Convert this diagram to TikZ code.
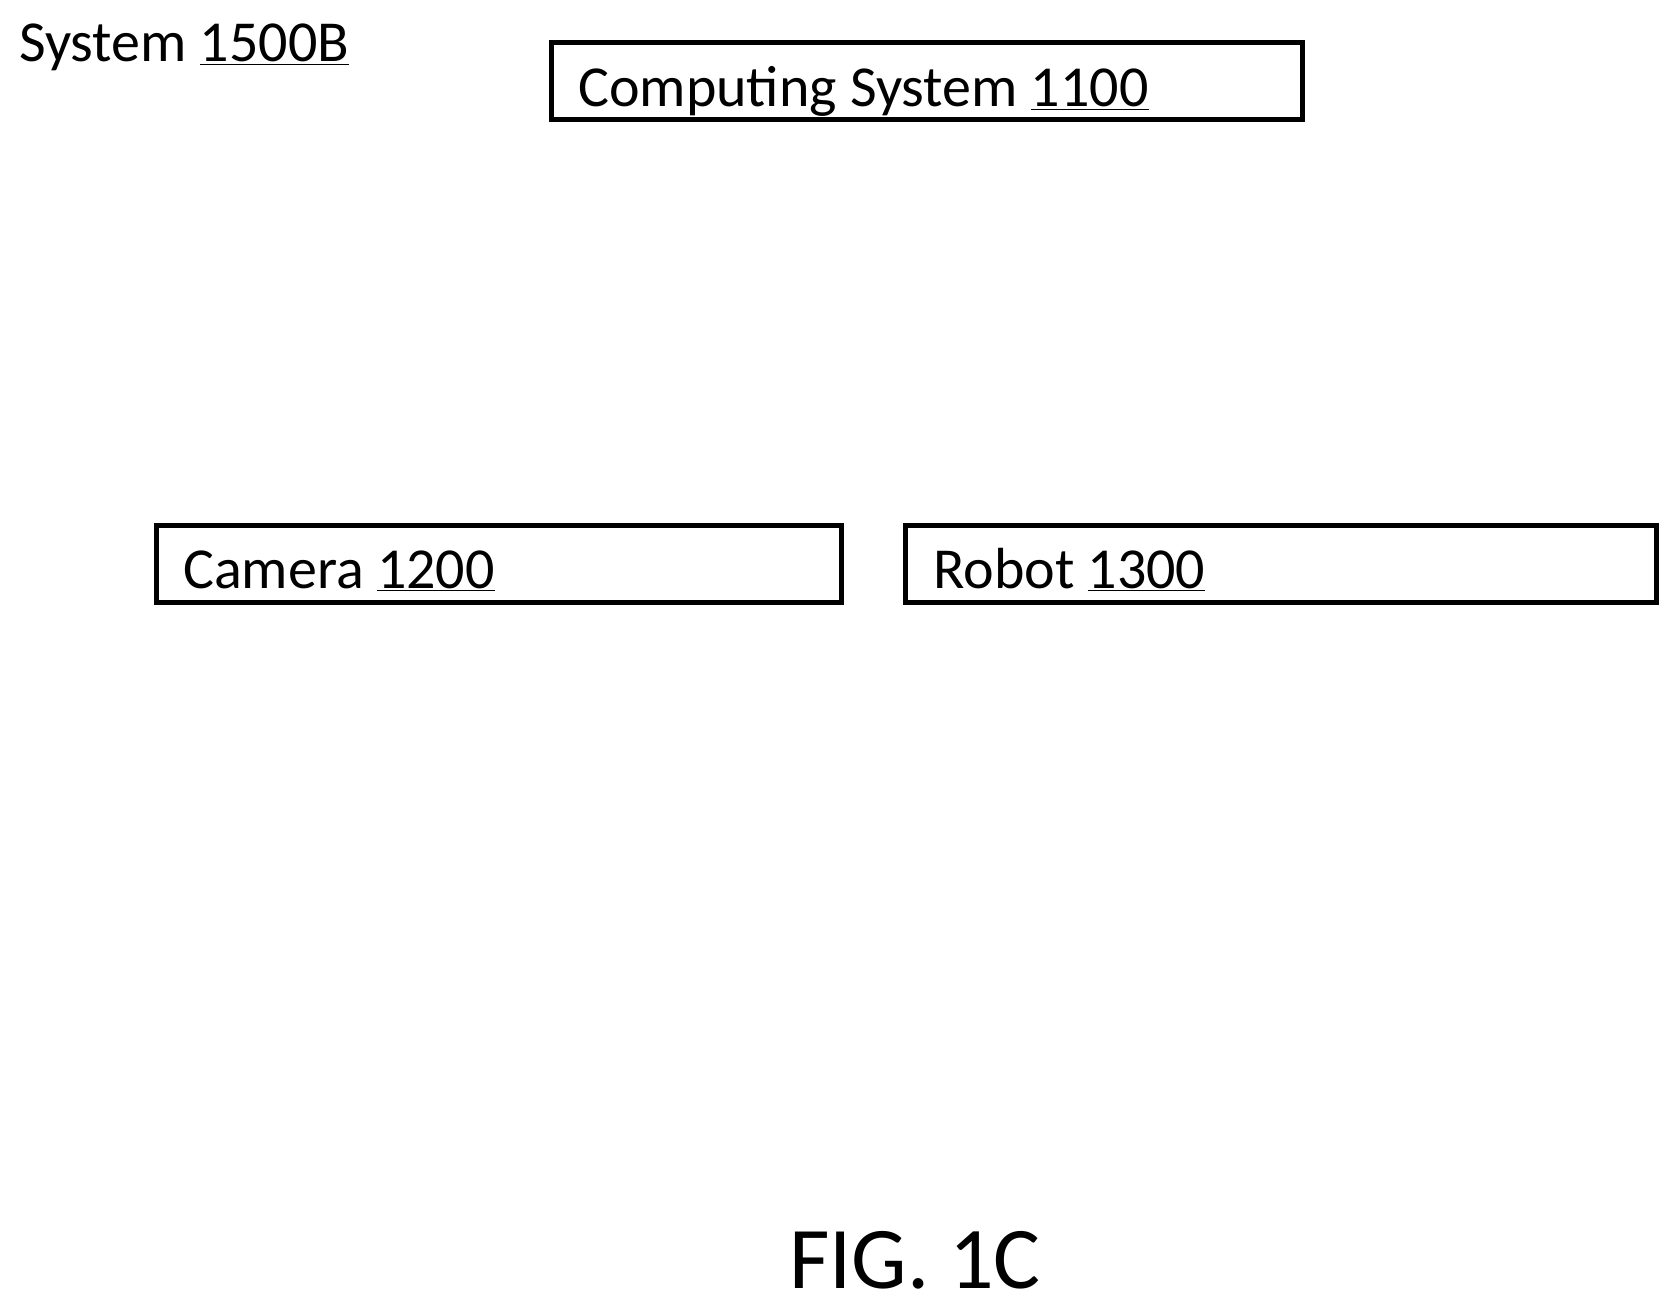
\documentclass[tikz,border=0pt]{standalone}
\usepackage{fontspec}
\setmainfont{Carlito}
\begin{document}
\begin{tikzpicture}[x=1pt,y=-1pt,
 box/.style={draw,line width=5pt,inner sep=0pt},
 lbl/.style={anchor=base west,inner sep=0pt,font=\fontsize{58}{60}\selectfont}]
\useasboundingbox (0,0) rectangle (1679,1308);
\node[lbl] (sys) at (19,62) {System \underline{1500B}};
\draw[box] (551,43) rectangle (1302,120);
\node[lbl] (cs) at (578,107) {Computing System \underline{1100}};
\draw[box] (156,525) rectangle (841,602);
\node[lbl] (cam) at (183,588) {Camera \underline{1200}};
\draw[box] (905,525) rectangle (1656,602);
\node[lbl] (rob) at (933,588) {Robot \underline{1300}};
\node[anchor=base west,inner sep=0pt,font=\fontsize{88}{90}\selectfont] (fig) at (789,1288) {FIG. 1C};
\end{tikzpicture}
\end{document}
